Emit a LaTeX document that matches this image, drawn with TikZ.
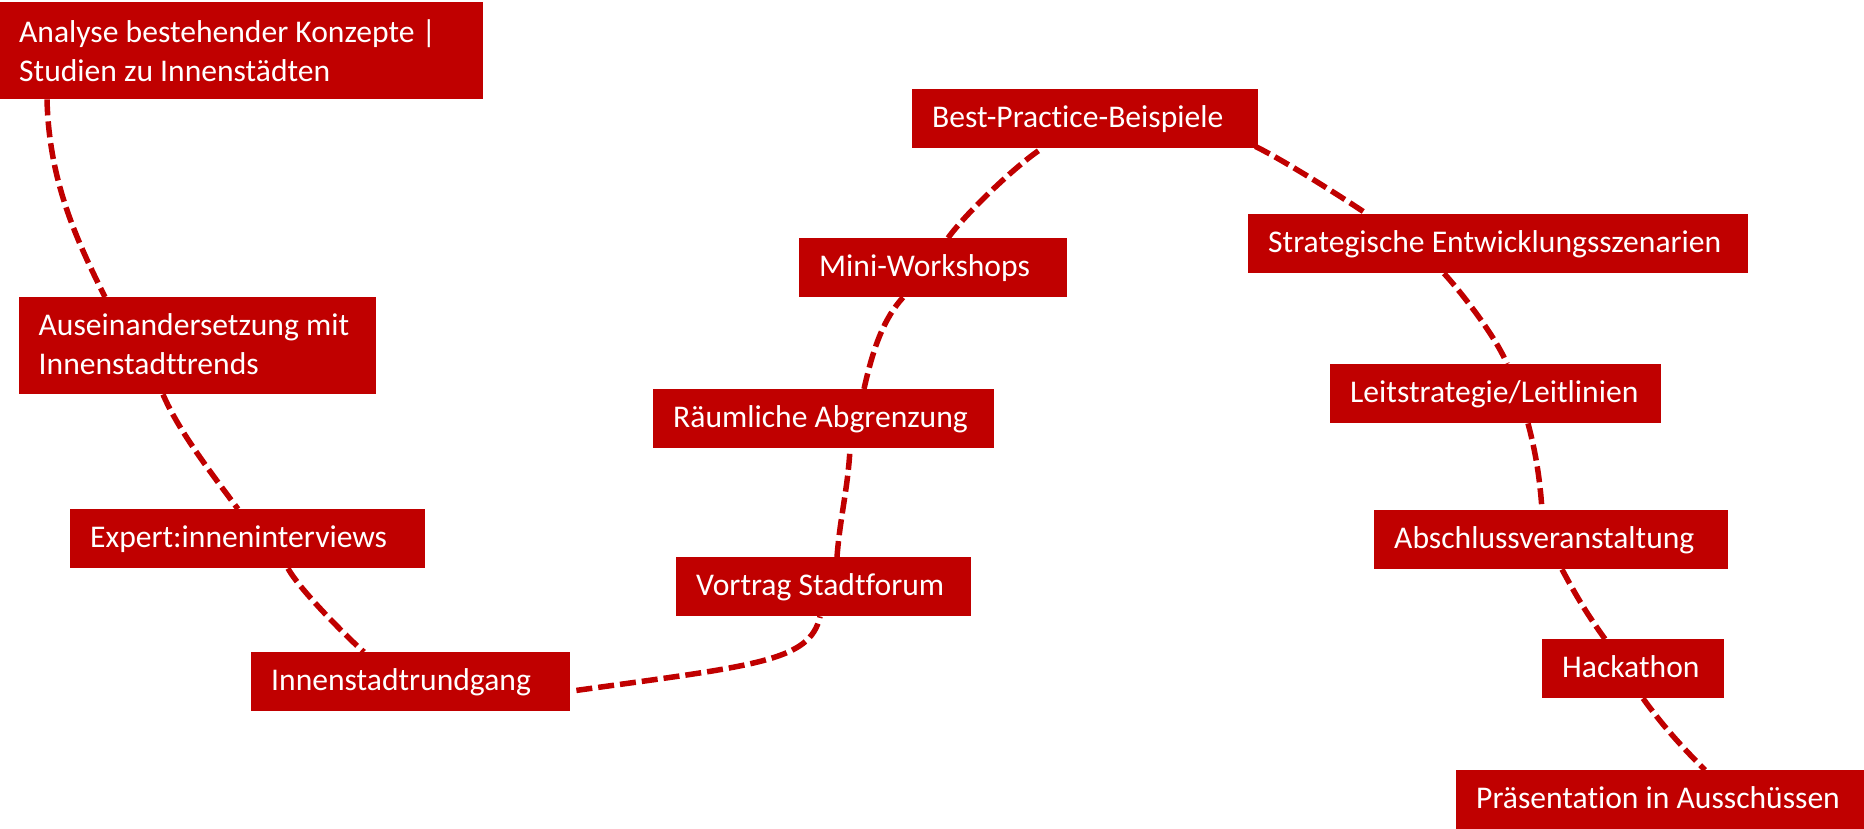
\documentclass[tikz,border=0pt]{standalone}
\usepackage{fontspec}
\setmainfont{Carlito}[Ligatures={NoCommon,NoRequired,NoContextual}]
\usetikzlibrary{calc}
\definecolor{boxred}{HTML}{C00000}
\tikzset{
  box/.style={fill=boxred, text=white, anchor=north west, inner xsep=20pt, inner ysep=0pt,
    align=flush left, text height=38.5pt, text depth=20.5pt, font=\fontsize{31.6}{39}\selectfont},
  link/.style={draw=boxred, line width=5.5pt, dash pattern=on 16pt off 6pt}
}
\begin{document}
\begin{tikzpicture}[x=1pt,y=-1pt]
\useasboundingbox (0,0) rectangle (1864,828);
\node[box, text height=40pt, text depth=57pt, inner xsep=19pt, text width=445pt] (A) at (0,2) {Analyse bestehender Konzepte |\\Studien zu Innenstädten};
\node[box, text width=318pt, inner xsep=19.5pt, text height=38pt, text depth=59pt] (B) at (19,297) {Auseinandersetzung mit\\Innenstadttrends};
\node[box, text width=315pt] (C) at (70,509) {\mbox{Expert:inneninterviews}};
\node[box, text width=279pt] (D) at (251,652) {\mbox{Innenstadtrundgang}};
\node[box, text width=255pt] (E) at (676,557) {\mbox{Vortrag Stadtforum}};
\node[box, text width=301pt] (F) at (653,389) {\mbox{Räumliche Abgrenzung}};
\node[box, text width=228pt] (G) at (799,238) {\mbox{Mini-Workshops}};
\node[box, text width=306pt] (H) at (912,89) {\mbox{Best-Practice-Beispiele}};
\node[box, text width=460pt] (I) at (1248,214) {\mbox{Strategische Entwicklungsszenarien}};
\node[box, text width=291pt] (J) at (1330,364) {\mbox{Leitstrategie/Leitlinien}};
\node[box, text width=314pt] (K) at (1374,510) {\mbox{Abschlussveranstaltung}};
\node[box, text width=142pt] (L) at (1542,639) {\mbox{Hackathon}};
\node[box, text width=368pt] (M) at (1456,770) {\mbox{Präsentation in Ausschüssen}};

\draw[link] ($(A.south west)+(47,0)$) .. controls +(2,80) and +(-30,-60) .. ($(B.north west)+(86,0)$);
\draw[link] ($(B.south west)+(144,0)$) .. controls +(15,35) and +(-30,-40) .. ($(C.north west)+(168,0)$);
\draw[link] ($(C.south west)+(218,0)$) .. controls +(12,22) and +(-14,-12) .. ($(D.north west)+(113,0)$);
\draw[link] ($(D.south east)+(6,-21)$) .. controls +(180,-25) and +(-10,45) .. ($(E.south west)+(144,0)$);
\draw[link] ($(E.north west)+(161,0)$) .. controls +(3,-40) and +(-2,40) .. ($(F.south west)+(197,0)$);
\draw[link] ($(F.north west)+(211,0)$) .. controls +(10,-45) and +(-18,20) .. ($(G.south west)+(104,0)$);
\draw[link] ($(G.north west)+(149,0)$) .. controls +(18,-25) and +(-25,16) .. ($(H.south west)+(130,0)$);
\draw[link] ($(H.south east)+(-3,-2)$) .. controls +(30,15) and +(-30,-20) .. ($(I.north west)+(119,0)$);
\draw[link] ($(I.south west)+(196,0)$) .. controls +(20,22) and +(-10,-25) .. ($(J.north west)+(177,0)$);
\draw[link] ($(J.south west)+(198,0)$) .. controls +(8,30) and +(-2,-30) .. ($(K.north west)+(168,0)$);
\draw[link] ($(K.south west)+(188,0)$) .. controls +(15,28) and +(-18,-25) .. ($(L.north west)+(63,0)$);
\draw[link] ($(L.south west)+(101,0)$) .. controls +(18,25) and +(-25,-25) .. ($(M.north west)+(249,0)$);
\end{tikzpicture}
\end{document}
